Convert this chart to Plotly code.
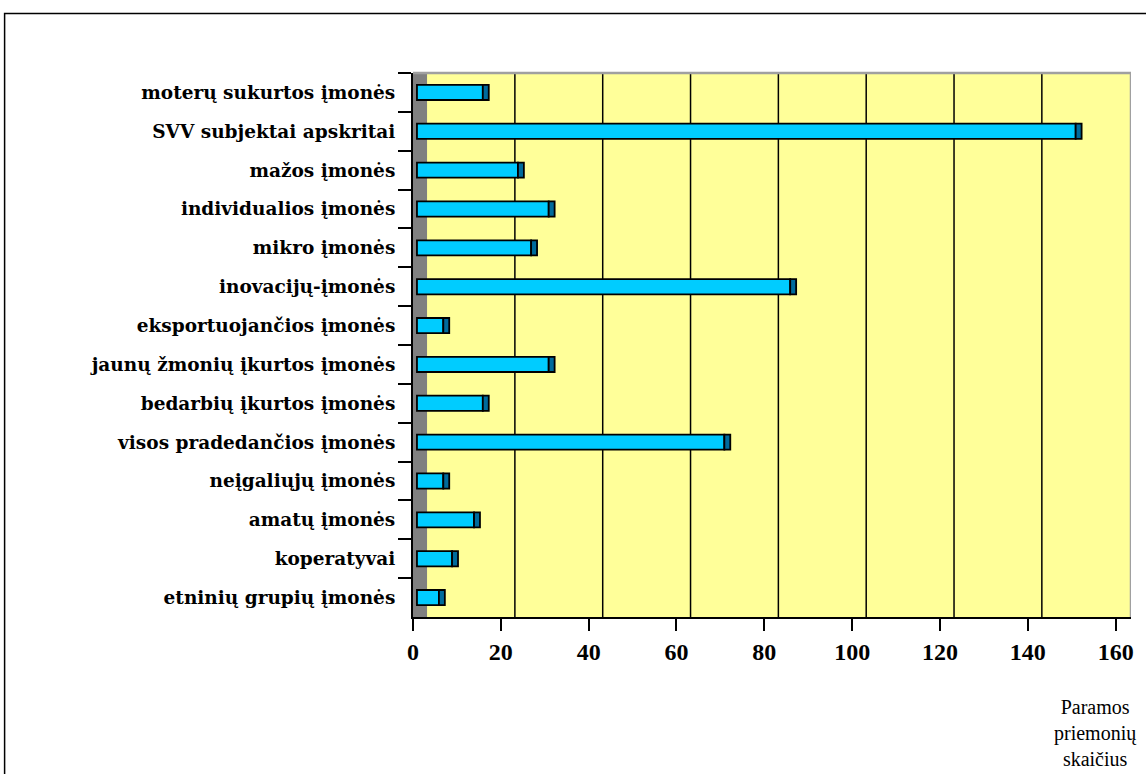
import plotly.graph_objects as go

# Support measures counted per target group of enterprises
categories = [
    "moterų sukurtos įmonės",
    "SVV subjektai apskritai",
    "mažos įmonės",
    "individualios įmonės",
    "mikro įmonės",
    "inovacijų-įmonės",
    "eksportuojančios įmonės",
    "jaunų žmonių įkurtos įmonės",
    "bedarbių įkurtos įmonės",
    "visos pradedančios įmonės",
    "neįgaliųjų įmonės",
    "amatų įmonės",
    "koperatyvai",
    "etninių grupių įmonės",
]
values = [15, 150, 23, 30, 26, 85, 6, 30, 15, 70, 6, 13, 8, 5]
x_ticks = [0, 20, 40, 60, 80, 100, 120, 140, 160]
axis_title = "Paramos<br>priemonių<br>skaičius"

# pseudo-3D styling
WALL_DEPTH = 3.2      # depth of the side wall in value units
FRONT_SHIFT = 0.9     # bars sit slightly in front of the wall
SIDE_DEPTH = 1.35     # visible end face of each bar
X_MAX = 163.5
BAR_W = 0.39

fig = go.Figure()

# front faces of the bars
fig.add_trace(go.Bar(
    orientation="h",
    y=categories,
    x=values,
    base=[FRONT_SHIFT] * len(values),
    width=BAR_W,
    marker=dict(color="#00CCFF", line=dict(color="#000000", width=1.8)),
    hoverinfo="skip",
))
# darker end faces
fig.add_trace(go.Bar(
    orientation="h",
    y=categories,
    x=[SIDE_DEPTH] * len(values),
    base=[v + FRONT_SHIFT for v in values],
    width=BAR_W,
    marker=dict(color="#006B9C", line=dict(color="#000000", width=1.8)),
    hoverinfo="skip",
))

shapes = []
# grey side wall
shapes.append(dict(type="rect", xref="x", yref="paper", x0=0, x1=WALL_DEPTH, y0=0, y1=1,
                   fillcolor="#808080", line=dict(width=0), layer="below"))
# back-wall gridlines, shifted by the wall depth
for t in x_ticks[1:-1]:
    shapes.append(dict(type="line", xref="x", yref="paper", x0=t + WALL_DEPTH, x1=t + WALL_DEPTH,
                       y0=0, y1=1, line=dict(color="#000000", width=1.5), layer="below"))
# top and right edges of the back wall
shapes.append(dict(type="line", xref="x", yref="paper", x0=0, x1=X_MAX, y0=1, y1=1,
                   line=dict(color="#A0A0A0", width=2.5)))
shapes.append(dict(type="line", xref="x", yref="paper", x0=X_MAX, x1=X_MAX, y0=0, y1=1,
                   line=dict(color="#A0A0A0", width=2.5)))
# outer frame of the chart area
shapes.append(dict(type="rect", xref="paper", yref="paper", x0=-0.5688, x1=1.2,
                   y0=-0.5, y1=1.1094, line=dict(color="#000000", width=1.5),
                   fillcolor="rgba(0,0,0,0)", layer="below"))

fig.update_layout(
    width=1146,
    height=774,
    margin=dict(l=413, r=13, t=73, b=157),
    paper_bgcolor="#FFFFFF",
    plot_bgcolor="#FFFF99",
    barmode="overlay",
    showlegend=False,
    shapes=shapes,
    xaxis=dict(
        range=[0, X_MAX],
        tickvals=x_ticks,
        ticktext=[str(t) for t in x_ticks],
        showgrid=False,
        zeroline=False,
        showline=True,
        linecolor="#000000",
        linewidth=2,
        ticks="outside",
        ticklen=12,
        tickwidth=1.5,
        tickcolor="#000000",
        tickfont=dict(family="Liberation Serif", size=24, color="#000000", weight="bold"),
    ),
    yaxis=dict(
        type="category",
        categoryorder="array",
        categoryarray=categories,
        autorange="reversed",
        showgrid=False,
        zeroline=False,
        showline=True,
        linecolor="#000000",
        linewidth=2,
        ticks="outside",
        tickson="boundaries",
        ticklen=13,
        tickwidth=1.5,
        tickcolor="#000000",
        ticklabelstandoff=12,
        tickfont=dict(family="DejaVu Serif", size=18.5, color="#000000", weight="bold"),
    ),
    annotations=[dict(
        text=axis_title,
        xref="paper", yref="paper",
        x=0.95, y=-0.213,
        xanchor="center", yanchor="middle",
        showarrow=False,
        align="center",
        font=dict(family="Liberation Serif", size=20, color="#000000"),
    )],
)

fig.write_html("out.html")
